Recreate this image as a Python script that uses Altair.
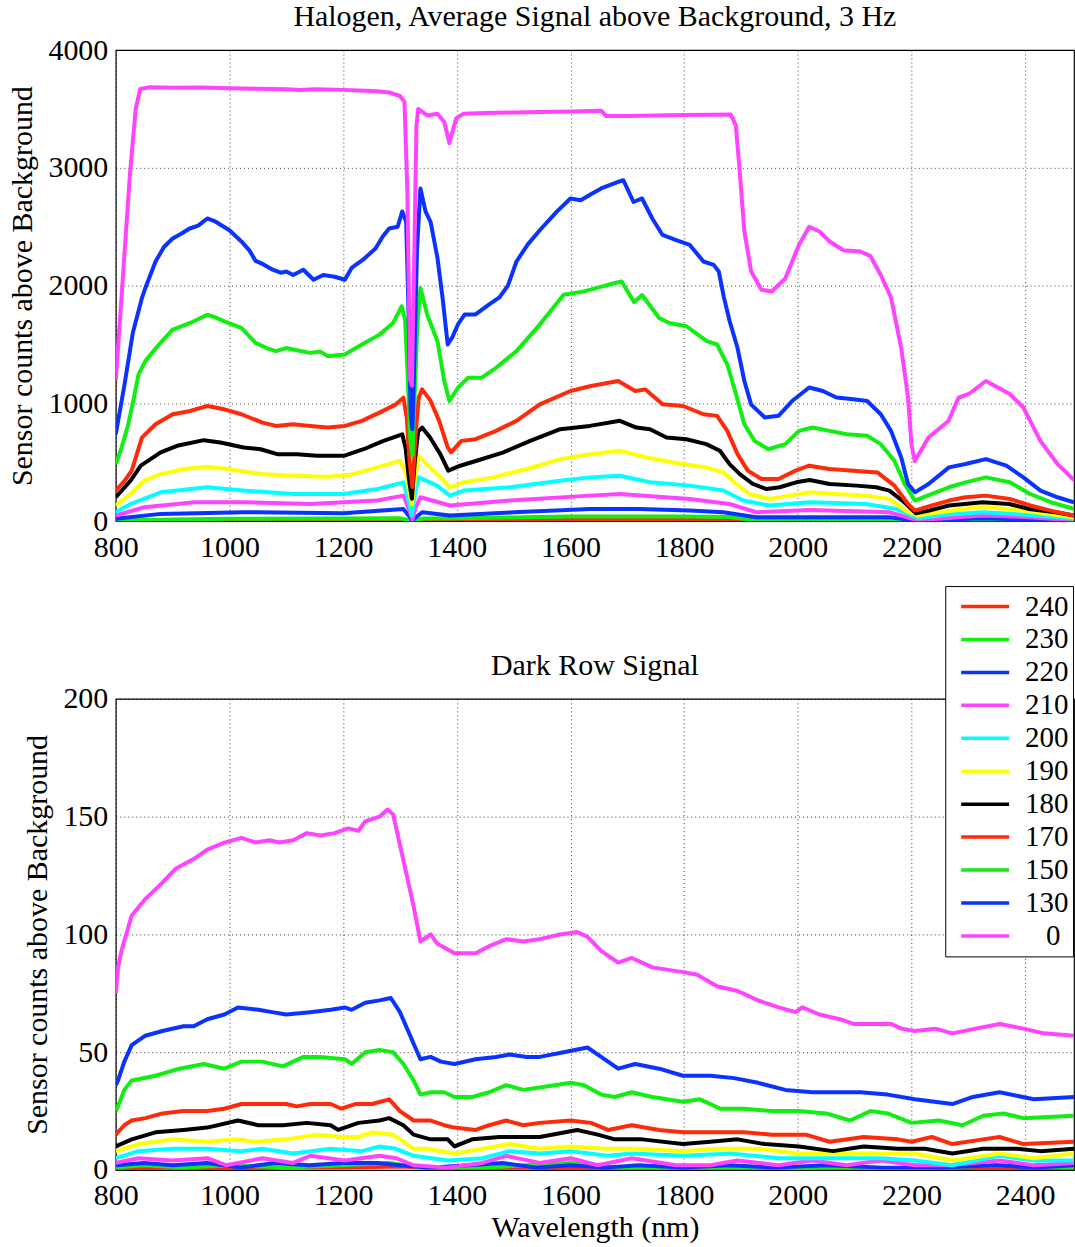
import altair as alt
import pandas as pd

SERIES = ["240", "230", "220", "210", "200", "190", "180", "170", "150", "130", "0"]
COLORS = ["#ff2a0a", "#11ee11", "#0a33ff", "#ff44ff", "#00ffff", "#ffff00",
          "#000000", "#ff2a0a", "#11ee11", "#0a33ff", "#ff44ff"]
X_TICKS = [800, 1000, 1200, 1400, 1600, 1800, 2000, 2200, 2400]
TOP_Y_TICKS = [0, 1000, 2000, 3000, 4000]
BOT_Y_TICKS = [0, 50, 100, 150, 200]

TOP_TITLE = "Halogen, Average Signal above Background, 3 Hz"
BOT_TITLE = "Dark Row Signal"
Y_TITLE = "Sensor counts above Background"
X_TITLE = "Wavelength (nm)"

# ---------------- top panel: (wavelength nm, counts) ----------------
TOP_0 = [(800, 1200), (808, 1750), (815, 2250), (825, 2950), (835, 3500), (843, 3670), (860, 3685),
         (900, 3680), (950, 3682), (1000, 3675), (1050, 3672), (1100, 3668), (1125, 3660), (1150, 3668),
         (1200, 3662), (1240, 3655), (1260, 3650), (1281, 3640), (1300, 3610), (1308, 3560), (1313, 2800),
         (1318, 1200), (1321, 1150), (1325, 2200), (1329, 3350), (1332, 3500), (1348, 3445), (1366, 3460),
         (1378, 3390), (1387, 3210), (1399, 3420), (1412, 3460), (1450, 3465), (1500, 3470), (1546, 3475),
         (1600, 3478), (1654, 3485), (1663, 3440), (1700, 3440), (1750, 3445), (1800, 3448), (1850, 3450),
         (1882, 3452), (1891, 3360), (1897, 3020), (1906, 2460), (1918, 2120), (1936, 1965), (1954, 1950),
         (1978, 2060), (2002, 2345), (2020, 2500), (2038, 2460), (2056, 2375), (2080, 2300), (2110, 2290),
         (2128, 2250), (2146, 2090), (2164, 1900), (2182, 1470), (2194, 1050), (2200, 650), (2206, 510),
         (2230, 710), (2265, 850), (2283, 1050), (2301, 1080), (2331, 1190), (2373, 1080), (2397, 965),
         (2427, 680), (2457, 485), (2486, 350)]
TOP_130 = [(800, 740), (815, 1150), (830, 1600), (846, 1894), (852, 1980), (870, 2205), (885, 2330),
           (900, 2400), (915, 2440), (930, 2485), (945, 2510), (961, 2570), (975, 2545), (985, 2515),
           (1000, 2470), (1021, 2375), (1035, 2300), (1046, 2210), (1060, 2180), (1076, 2135), (1090, 2110),
           (1100, 2120), (1112, 2090), (1130, 2135), (1148, 2050), (1165, 2090), (1185, 2075), (1203, 2050),
           (1215, 2150), (1235, 2220), (1257, 2315), (1270, 2420), (1281, 2485), (1296, 2500), (1304, 2630),
           (1311, 2540), (1315, 1800), (1319, 900), (1322, 780), (1326, 1500), (1330, 2300), (1336, 2825),
           (1345, 2630), (1354, 2540), (1366, 2235), (1375, 1895), (1384, 1500), (1392, 1560), (1402, 1670),
           (1414, 1755), (1433, 1755), (1457, 1840), (1475, 1900), (1490, 2000), (1505, 2205), (1525, 2350),
           (1546, 2470), (1576, 2628), (1600, 2740), (1618, 2725), (1636, 2775), (1654, 2825), (1684, 2880),
           (1693, 2895), (1711, 2710), (1726, 2740), (1744, 2570), (1762, 2430), (1786, 2387), (1810, 2345),
           (1834, 2205), (1852, 2176), (1861, 2120), (1870, 1900), (1880, 1700), (1894, 1470), (1906, 1190),
           (1918, 990), (1942, 880), (1966, 895), (1990, 1020), (2020, 1135), (2044, 1105), (2068, 1050),
           (2098, 1035), (2122, 1020), (2146, 908), (2164, 767), (2182, 541), (2194, 316), (2206, 245),
           (2230, 316), (2266, 457), (2295, 485), (2331, 527), (2367, 471), (2397, 372), (2427, 260),
           (2457, 203), (2486, 160)]
TOP_150 = [(800, 485), (810, 620), (822, 823), (832, 1050), (840, 1246), (852, 1359), (876, 1500),
           (900, 1626), (931, 1683), (961, 1753), (975, 1730), (991, 1697), (1021, 1641), (1046, 1514),
           (1065, 1470), (1082, 1444), (1100, 1470), (1112, 1458), (1142, 1429), (1160, 1440), (1173, 1401),
           (1203, 1415), (1233, 1500), (1264, 1584), (1288, 1683), (1303, 1824), (1309, 1711), (1314, 1200),
           (1318, 700), (1322, 560), (1326, 1100), (1331, 1700), (1336, 1979), (1348, 1753), (1366, 1528),
           (1378, 1190), (1387, 1021), (1402, 1133), (1420, 1218), (1444, 1218), (1469, 1302), (1505, 1444),
           (1546, 1669), (1588, 1923), (1624, 1951), (1666, 2007), (1690, 2035), (1712, 1860), (1726, 1920),
           (1756, 1725), (1774, 1683), (1804, 1655), (1840, 1528), (1858, 1500), (1876, 1330), (1888, 1133),
           (1906, 823), (1924, 682), (1948, 611), (1978, 654), (2002, 767), (2026, 795), (2056, 767),
           (2086, 738), (2122, 725), (2146, 654), (2170, 513), (2188, 316), (2206, 175), (2236, 231),
           (2266, 288), (2295, 330), (2331, 372), (2373, 330), (2409, 231), (2445, 161), (2486, 104)]
TOP_170 = [(800, 260), (815, 340), (828, 429), (846, 710), (870, 823), (900, 908), (931, 936), (961, 978),
           (991, 950), (1021, 908), (1058, 837), (1082, 809), (1112, 823), (1142, 809), (1173, 795),
           (1203, 809), (1233, 852), (1264, 922), (1293, 992), (1306, 1049), (1312, 880), (1317, 500),
           (1322, 290), (1327, 700), (1333, 1050), (1339, 1119), (1354, 1021), (1369, 852), (1384, 626),
           (1390, 584), (1408, 682), (1433, 696), (1469, 767), (1505, 852), (1546, 992), (1600, 1105),
           (1636, 1148), (1684, 1190), (1714, 1105), (1732, 1119), (1762, 992), (1798, 978), (1834, 908),
           (1858, 894), (1876, 767), (1894, 569), (1912, 429), (1936, 358), (1966, 358), (1996, 429),
           (2020, 471), (2056, 443), (2098, 429), (2140, 414), (2170, 302), (2194, 146), (2206, 90),
           (2236, 133), (2266, 175), (2295, 203), (2331, 217), (2373, 189), (2409, 133), (2445, 90),
           (2486, 48)]
TOP_180 = [(800, 203), (826, 344), (844, 471), (879, 584), (908, 640), (955, 688), (984, 668), (1025, 626),
           (1055, 611), (1084, 569), (1119, 569), (1154, 555), (1201, 555), (1236, 611), (1271, 682),
           (1304, 738), (1310, 620), (1316, 350), (1321, 190), (1326, 500), (1332, 760), (1339, 795),
           (1353, 710), (1371, 569), (1385, 429), (1406, 471), (1435, 513), (1482, 584), (1529, 682),
           (1582, 781), (1634, 809), (1687, 852), (1716, 795), (1740, 781), (1769, 710), (1804, 696),
           (1839, 654), (1863, 598), (1880, 485), (1898, 400), (1921, 316), (1945, 273), (1968, 288),
           (1997, 330), (2021, 349), (2056, 316), (2103, 302), (2138, 288), (2161, 260), (2184, 175),
           (2208, 68), (2231, 90), (2266, 133), (2325, 161), (2372, 146), (2407, 104), (2454, 76), (2486, 48)]
TOP_190 = [(800, 133), (826, 231), (850, 344), (879, 400), (920, 443), (961, 462), (996, 443), (1055, 400),
           (1113, 386), (1172, 378), (1213, 395), (1260, 457), (1300, 513), (1310, 420), (1316, 250),
           (1321, 140), (1327, 380), (1333, 555), (1353, 457), (1371, 372), (1388, 288), (1412, 330),
           (1464, 372), (1523, 443), (1582, 527), (1634, 569), (1687, 598), (1734, 541), (1781, 499),
           (1839, 457), (1869, 414), (1892, 316), (1915, 231), (1950, 189), (1985, 217), (2021, 245),
           (2067, 231), (2120, 217), (2161, 189), (2190, 90), (2211, 48), (2249, 76), (2325, 124),
           (2395, 90), (2440, 60), (2486, 34)]
TOP_200 = [(800, 76), (826, 146), (879, 245), (961, 288), (1025, 260), (1113, 231), (1201, 231),
           (1260, 273), (1306, 330), (1314, 200), (1321, 50), (1327, 250), (1333, 372), (1365, 302),
           (1388, 217), (1412, 260), (1494, 288), (1582, 344), (1634, 372), (1687, 386), (1740, 330),
           (1810, 302), (1869, 260), (1904, 175), (1950, 133), (2021, 161), (2120, 146), (2173, 104),
           (2211, 25), (2260, 55), (2325, 76), (2400, 55), (2486, 20)]
TOP_210 = [(800, 48), (850, 118), (938, 161), (1025, 161), (1142, 146), (1260, 175), (1306, 217),
           (1316, 100), (1322, 15), (1328, 120), (1336, 203), (1388, 133), (1494, 175), (1634, 217),
           (1687, 231), (1810, 189), (1880, 146), (1927, 76), (2021, 96), (2161, 76), (2211, 8),
           (2325, 48), (2400, 35), (2486, 8)]
TOP_220 = [(800, 20), (879, 62), (1025, 76), (1201, 68), (1306, 104), (1322, 8), (1339, 76), (1388, 48),
           (1500, 75), (1634, 104), (1722, 104), (1810, 90), (1869, 76), (1927, 34), (2161, 34), (2211, 4),
           (2325, 25), (2486, 4)]
TOP_230 = [(800, 5), (900, 15), (1000, 20), (1300, 25), (1322, 3), (1340, 22), (1400, 25), (1600, 40),
           (1800, 40), (1880, 35), (1920, 10), (2000, 12), (2180, 8), (2210, 2), (2300, 10), (2486, 3)]
TOP_240 = [(800, 2), (1000, 5), (1300, 8), (1322, 1), (1400, 6), (1600, 10), (1880, 10), (1920, 3),
           (2200, 1), (2300, 4), (2486, 1)]

# ---------------- bottom panel: (wavelength nm, counts) ----------------
BOT_0 = [(800, 75), (804, 86), (810, 93), (828, 108), (852, 115), (882, 122), (906, 128), (937, 132),
         (961, 136), (991, 139), (1021, 141), (1046, 139), (1070, 140), (1088, 139), (1112, 140),
         (1136, 143), (1160, 142), (1185, 143), (1209, 145), (1227, 144), (1239, 148), (1264, 150),
         (1278, 153), (1288, 151), (1300, 138), (1312, 125), (1324, 112), (1336, 97), (1354, 100),
         (1366, 96), (1396, 92), (1433, 92), (1457, 95), (1487, 98), (1517, 97), (1546, 98), (1582, 100),
         (1612, 101), (1630, 99), (1654, 93), (1684, 88), (1708, 90), (1744, 86), (1798, 84), (1822, 83),
         (1858, 78), (1894, 76), (1930, 72), (1966, 69), (1996, 67), (2008, 69), (2038, 66), (2074, 64),
         (2098, 62), (2134, 62), (2164, 62), (2182, 60), (2206, 59), (2242, 60), (2272, 58), (2313, 60),
         (2355, 62), (2397, 60), (2433, 58), (2486, 57)]
BOT_130 = [(800, 36), (804, 38), (815, 46), (828, 53), (852, 57), (882, 59), (919, 61), (937, 61),
           (961, 64), (991, 66), (1015, 69), (1051, 68), (1075, 67), (1100, 66), (1142, 67), (1178, 68),
           (1203, 69), (1215, 68), (1239, 71), (1264, 72), (1284, 73), (1300, 67), (1318, 57), (1336, 47),
           (1354, 48), (1372, 46), (1396, 45), (1433, 47), (1469, 48), (1493, 49), (1523, 48), (1546, 48),
           (1588, 50), (1630, 52), (1654, 48), (1684, 43), (1714, 45), (1756, 43), (1798, 40), (1846, 40),
           (1888, 39), (1930, 37), (1978, 34), (2026, 33), (2074, 33), (2110, 33), (2158, 32), (2206, 30),
           (2272, 28), (2308, 31), (2355, 33), (2415, 30), (2486, 31)]
BOT_150 = [(800, 25), (804, 27), (815, 34), (828, 38), (870, 40), (912, 43), (955, 45), (991, 43),
           (1021, 46), (1058, 46), (1094, 44), (1130, 48), (1160, 48), (1203, 47), (1215, 45), (1239, 50),
           (1264, 51), (1288, 50), (1306, 45), (1324, 38), (1336, 32), (1354, 33), (1378, 33), (1396, 31),
           (1427, 31), (1457, 33), (1487, 36), (1517, 34), (1546, 35), (1600, 37), (1624, 36), (1654, 32),
           (1678, 31), (1708, 33), (1744, 31), (1798, 29), (1828, 30), (1864, 26), (1906, 26), (1954, 25),
           (2002, 25), (2050, 24), (2092, 21), (2128, 25), (2158, 24), (2200, 20), (2248, 21), (2290, 19),
           (2326, 23), (2362, 24), (2397, 22), (2486, 23)]
BOT_170 = [(800, 15), (815, 19), (828, 21), (852, 22), (882, 24), (919, 25), (961, 25), (991, 26),
           (1021, 28), (1058, 28), (1100, 28), (1118, 27), (1142, 28), (1178, 28), (1197, 26), (1221, 28),
           (1251, 28), (1281, 30), (1300, 25), (1324, 21), (1342, 21), (1354, 21), (1378, 19), (1396, 18),
           (1433, 17), (1457, 19), (1487, 21), (1517, 19), (1546, 20), (1600, 21), (1636, 20), (1666, 17),
           (1708, 19), (1756, 17), (1798, 16), (1846, 16), (1906, 16), (1954, 15), (2014, 15), (2056, 12),
           (2116, 14), (2176, 13), (2200, 12), (2236, 14), (2272, 11), (2326, 13), (2355, 14), (2397, 11),
           (2486, 12)]
BOT_180 = [(800, 10), (828, 13), (870, 16), (919, 17), (961, 18), (1015, 21), (1051, 19), (1094, 19),
           (1136, 20), (1178, 19), (1191, 17), (1227, 20), (1264, 21), (1281, 22), (1306, 19), (1324, 15),
           (1354, 13), (1384, 13), (1396, 10), (1427, 13), (1475, 14), (1523, 14), (1546, 14), (1612, 17),
           (1648, 15), (1678, 13), (1726, 13), (1798, 11), (1846, 12), (1894, 13), (1942, 11), (2002, 10),
           (2062, 8), (2116, 10), (2176, 9), (2224, 9), (2272, 7), (2326, 9), (2385, 9), (2427, 8),
           (2486, 9)]
BOT_190 = [(800, 8), (840, 11), (900, 13), (961, 12), (1009, 13), (1046, 12), (1100, 13), (1154, 15),
           (1197, 14), (1227, 14), (1251, 16), (1288, 15), (1324, 9), (1348, 9), (1396, 7), (1445, 9),
           (1493, 11), (1546, 9), (1600, 10), (1666, 9), (1726, 9), (1798, 8), (1858, 9), (1930, 9),
           (2002, 7), (2074, 7), (2146, 7), (2206, 7), (2272, 4), (2355, 7), (2415, 5), (2486, 7)]
BOT_200 = [(800, 5), (840, 8), (900, 9), (961, 9), (1021, 8), (1058, 9), (1112, 7), (1178, 9), (1233, 8),
           (1264, 10), (1293, 9), (1324, 6), (1384, 4), (1445, 5), (1493, 8), (1546, 7), (1600, 8),
           (1666, 6), (1708, 7), (1798, 6), (1882, 7), (1966, 5), (2056, 5), (2146, 5), (2206, 4),
           (2272, 2), (2355, 6), (2415, 4), (2486, 4)]
BOT_210 = [(800, 3), (840, 5), (900, 4), (961, 5), (995, 2), (1058, 5), (1112, 3), (1142, 6), (1203, 4),
           (1264, 6), (1293, 5), (1324, 2), (1384, 1), (1445, 3), (1487, 6), (1546, 3), (1600, 5),
           (1648, 2), (1708, 5), (1786, 2), (1846, 2), (1894, 4), (1966, 2), (2026, 4), (2086, 2),
           (2146, 4), (2206, 2), (2266, 2), (2355, 4), (2415, 2), (2486, 3)]
BOT_220 = [(800, 2), (850, 3), (900, 2), (960, 3), (1020, 1), (1080, 3), (1140, 2), (1200, 3), (1260, 3),
           (1300, 2), (1350, 1), (1420, 2), (1480, 3), (1540, 1), (1600, 2), (1660, 1), (1720, 2),
           (1800, 1), (1880, 2), (1960, 1), (2050, 2), (2150, 1), (2250, 1), (2350, 2), (2420, 1),
           (2486, 2)]
BOT_230 = [(800, 1), (850, 2), (920, 1), (1000, 2), (1100, 1), (1200, 2), (1280, 3), (1340, 1),
           (1450, 1), (1520, 2), (1600, 3), (1680, 1), (1800, 1), (1900, 1), (2000, 1), (2100, 1),
           (2200, 0.5), (2350, 2), (2486, 1)]
BOT_240 = [(800, 0.5), (900, 1), (1000, 0.5), (1100, 1), (1200, 1), (1300, 1.5), (1400, 0.5), (1500, 1),
           (1650, 0.5), (1800, 0.5), (2000, 1), (2200, 0.5), (2486, 0.5)]

TOP = {"240": TOP_240, "230": TOP_230, "220": TOP_220, "210": TOP_210, "200": TOP_200,
       "190": TOP_190, "180": TOP_180, "170": TOP_170, "150": TOP_150, "130": TOP_130, "0": TOP_0}
BOT = {"240": BOT_240, "230": BOT_230, "220": BOT_220, "210": BOT_210, "200": BOT_200,
       "190": BOT_190, "180": BOT_180, "170": BOT_170, "150": BOT_150, "130": BOT_130, "0": BOT_0}

# legend text of each series ("0" is indented with a blank glyph, as in the reference legend)
LEGEND_TEXT = {s: s for s in SERIES}
LEGEND_TEXT["0"] = "\u2800" + "0"
LEGEND_ORDER = [LEGEND_TEXT[s] for s in SERIES]


def frame(d):
    rows = []
    for s in SERIES:
        for wl, v in d[s]:
            rows.append({"series": LEGEND_TEXT[s], "wl": wl, "v": v})
    return pd.DataFrame(rows)


FONT = "Liberation Serif"
FS = 30

legend = alt.Legend(
    orient="none", legendX=831, legendY=537, title=None,
    symbolType="stroke", symbolSize=2304, symbolStrokeWidth=3.5, symbolOffset=10,
    clipHeight=33, rowPadding=0, padding=4, labelOffset=14,
    labelFont=FONT, labelFontSize=29, labelColor="black",
    strokeColor="black", fillColor="white",
)


def panel(d, ydom, yticks, title, xtitle):
    xaxis = alt.Axis(values=X_TICKS, labelFlush=False, format="d", title=xtitle, labelPadding=11)
    return alt.Chart(frame(d)).mark_line(strokeWidth=4, clip=True, strokeJoin="round").encode(
        x=alt.X("wl:Q", scale=alt.Scale(domain=[800, 2486], nice=False, zero=False), axis=xaxis),
        y=alt.Y("v:Q", scale=alt.Scale(domain=ydom, nice=False),
                axis=alt.Axis(values=yticks, format="d", title=Y_TITLE)),
        color=alt.Color("series:N", scale=alt.Scale(domain=LEGEND_ORDER, range=COLORS),
                        sort=LEGEND_ORDER, legend=legend),
    ).properties(width=960, height=472, title=alt.TitleParams(title, offset=3))


top = panel(TOP, [0, 4000], TOP_Y_TICKS, TOP_TITLE, None)
bottom = panel(BOT, [0, 200], BOT_Y_TICKS, BOT_TITLE, X_TITLE)

chart = alt.vconcat(top, bottom, spacing=87).properties(
    padding={"left": 7, "top": 0, "right": 0, "bottom": 0}
).configure_view(stroke="black", strokeWidth=1.2).configure_axis(
    labelFont=FONT, labelFontSize=FS, labelColor="black",
    titleFont=FONT, titleFontSize=FS, titleFontWeight="normal", titleColor="black",
    grid=True, gridColor="#000000", gridDash=[1, 3], gridOpacity=0.75, gridWidth=1,
    ticks=False, domain=False, labelPadding=8,
).configure_axisY(titlePadding=10).configure_axisX(titlePadding=2).configure_title(
    font=FONT, fontSize=FS, fontWeight="normal", color="black", anchor="middle"
)

chart.save("out.html", embed_options={"renderer": "svg", "actions": False})
